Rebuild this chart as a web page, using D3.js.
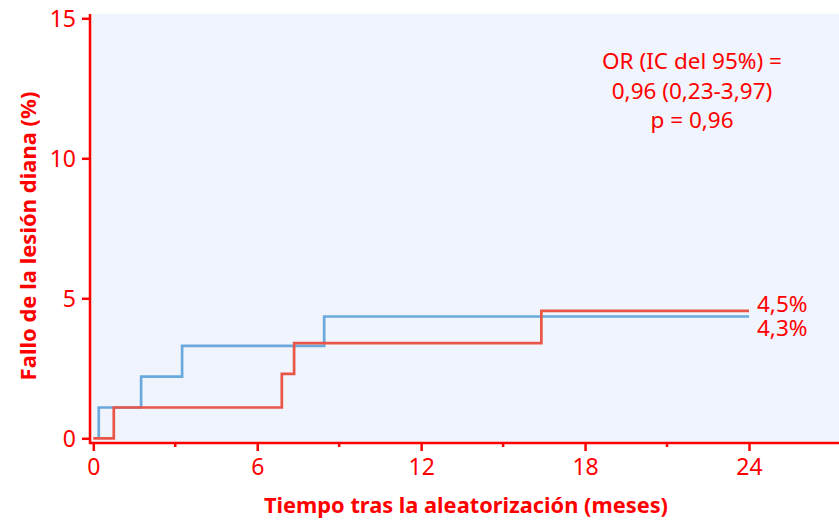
<!DOCTYPE html>
<html>
<head>
<meta charset="utf-8">
<script src="https://cdn.jsdelivr.net/npm/d3@7"></script>
<style>
    body { margin: 0; background: #fff; }
    text { font-family: "Noto Sans", "Open Sans", sans-serif; }
</style>
</head>
<body>
<script>
const pageWidth = 839;
const pageHeight = 520;

// step data (months, %)
const blueTimes = [0.2, 0.2, 1.75, 3.25, 8.45, 24];
const blueValues = [0, 1.1, 2.2, 3.3, 4.35, 4.35];
const redTimes = [0, 0.75, 6.9, 7.35, 16.4, 24];
const redValues = [0, 1.1, 2.3, 3.4, 4.55, 4.55];

const xTicks = [0, 6, 12, 18, 24];
const xMinorTicks = [3, 9, 15, 21];
const yTicks = [0, 5, 10, 15];
const endLabels = ["4,5%", "4,3%"];
const statLines = ["OR (IC del 95%) =", "0,96 (0,23-3,97)", "p = 0,96"];

const red = "#ff0000";
const blueLine = "#6aa9dd";
const redLine = "#e95648";

function setup() {
    const svg = d3.select("body").append("svg")
        .attr("width", pageWidth)
        .attr("height", pageHeight);

    const x = d3.scaleLinear().domain([0, 24]).range([93.3, 749]);
    const y = d3.scaleLinear().domain([0, 15]).range([438.3, 18.3]);

    // plot background
    svg.append("rect")
        .attr("x", 91)
        .attr("y", 14)
        .attr("width", pageWidth - 91)
        .attr("height", 443 - 14)
        .attr("fill", "#f0f4fc");

    const line = d3.line()
        .x(d => x(d[0]))
        .y(d => y(d[1]))
        .curve(d3.curveStepAfter);

    svg.append("path")
        .datum(d3.zip(blueTimes, blueValues))
        .attr("d", line)
        .attr("fill", "none")
        .attr("stroke", blueLine)
        .attr("stroke-width", 2.7);

    svg.append("path")
        .datum(d3.zip(redTimes, redValues))
        .attr("d", line)
        .attr("fill", "none")
        .attr("stroke", redLine)
        .attr("stroke-width", 2.7);

    // axes lines
    svg.append("line")
        .attr("x1", 90).attr("x2", 90)
        .attr("y1", 14).attr("y2", 444)
        .attr("stroke", red).attr("stroke-width", 2.5);
    svg.append("line")
        .attr("x1", 89).attr("x2", pageWidth)
        .attr("y1", 443).attr("y2", 443)
        .attr("stroke", red).attr("stroke-width", 2.5);

    // y ticks
    const yAxis = d3.axisLeft(y)
        .tickValues(yTicks)
        .tickSize(7)
        .tickPadding(6);
    const gy = svg.append("g")
        .attr("transform", "translate(89,0)")
        .call(yAxis);
    gy.select(".domain").remove();
    gy.selectAll(".tick line").attr("stroke", red).attr("stroke-width", 2.5);
    gy.selectAll(".tick text")
        .attr("fill", red)
        .style("font-size", "23px")
        .attr("dy", "0.35em");

    // x ticks
    const xAxis = d3.axisBottom(x)
        .tickValues(xTicks)
        .tickSize(8)
        .tickPadding(8);
    const gx = svg.append("g")
        .attr("transform", "translate(0,443)")
        .call(xAxis);
    gx.select(".domain").remove();
    gx.selectAll(".tick line").attr("stroke", red).attr("stroke-width", 2.5);
    gx.selectAll(".tick text")
        .attr("fill", red)
        .style("font-size", "23px");

    svg.append("g")
        .selectAll("line")
        .data(xMinorTicks)
        .enter().append("line")
        .attr("x1", d => x(d)).attr("x2", d => x(d))
        .attr("y1", 443).attr("y2", 447)
        .attr("stroke", red).attr("stroke-width", 2.5);

    // axis titles
    svg.append("text")
        .attr("x", 466)
        .attr("y", 513)
        .attr("text-anchor", "middle")
        .attr("fill", red)
        .style("font-size", "21.8px")
        .style("font-weight", "bold")
        .text("Tiempo tras la aleatorización (meses)");

    svg.append("text")
        .attr("transform", "translate(36,236) rotate(-90)")
        .attr("text-anchor", "middle")
        .attr("fill", red)
        .style("font-size", "22px")
        .style("font-weight", "bold")
        .text("Fallo de la lesión diana (%)");

    // end labels (one text block, stacked tight like the original)
    svg.append("text")
        .attr("class", "end-label")
        .attr("fill", red)
        .style("font-size", "22.5px")
        .selectAll("tspan")
        .data(endLabels)
        .enter().append("tspan")
        .attr("x", 757)
        .attr("y", (d, i) => 312 + i * 23.5)
        .text(d => d);

    // stats annotation
    svg.selectAll(".stat")
        .data(statLines)
        .enter().append("text")
        .attr("class", "stat")
        .attr("x", 692)
        .attr("y", (d, i) => 69 + i * 29.5)
        .attr("text-anchor", "middle")
        .attr("fill", red)
        .style("font-size", "22.5px")
        .text(d => d);
}

setup();
</script>
</body>
</html>
